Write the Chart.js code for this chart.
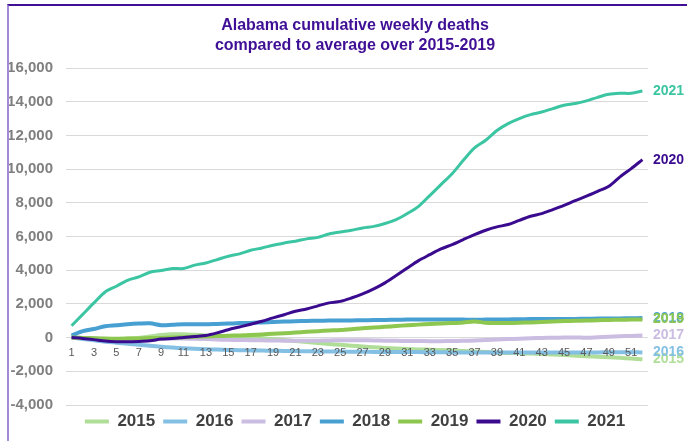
<!DOCTYPE html>
<html>
<head>
<meta charset="utf-8">
<script src="https://cdn.jsdelivr.net/npm/chart.js@4.4.1/dist/chart.umd.min.js"></script>
<style>
  html, body { margin: 0; padding: 0; background: #fff; overflow: hidden; }
  .frame {
    position: absolute; left: 7px; top: 4px;
    border-top: 2px solid #3f0f95; border-left: 2px solid #a58bd6;
  }
  .chart-box { position: relative; width: 692px; height: 437px; }
</style>
</head>
<body>
<div class="frame"><div class="chart-box"><canvas id="chart"></canvas></div></div>
<script>
const weeks = Array.from({ length: 52 }, (_, i) => String(i + 1));

const years = ["2015", "2016", "2017", "2018", "2019", "2020", "2021"];
const colors = ["#b0de98", "#84c0e3", "#cbbce2", "#479fd2", "#8dc74f", "#3a0b8e", "#3cc5a2"];
const widths = [4, 4, 4, 4, 4, 3, 3];

const d2015 = [0, -30, -60, -80, -80, -60, -20, 60, 150, 200, 200, 170, 130, 90, 50, 20, 0, -40, -90, -140,
  -200, -260, -320, -380, -430, -480, -530, -570, -610, -650, -680, -700, -720, -740, -770, -800, -830, -860,
  -890, -910, -930, -950, -980, -1010, -1040, -1070, -1100, -1130, -1160, -1200, -1240, -1290];
const d2016 = [0, -80, -160, -240, -300, -360, -420, -480, -540, -590, -630, -660, -690, -710, -730, -750, -760,
  -770, -780, -790, -800, -810, -820, -830, -830, -840, -840, -850, -850, -860, -860, -860, -870, -870, -880,
  -880, -880, -880, -880, -890, -890, -890, -890, -890, -880, -880, -880, -880, -870, -870, -870, -880];
const d2017 = [0, -20, -50, -80, -100, -110, -110, -100, -80, -60, -60, -70, -90, -110, -130, -140, -150, -160,
  -170, -180, -180, -180, -180, -170, -160, -160, -160, -170, -180, -190, -200, -200, -210, -210, -200, -190,
  -170, -140, -110, -90, -70, -40, -20, -10, 0, 10, -10, 20, 50, 80, 100, 120];
const d2018 = [120, 380, 510, 670, 730, 790, 830, 850, 740, 760, 790, 790, 790, 810, 830, 860, 870, 900, 930,
  950, 970, 990, 1000, 1010, 1010, 1020, 1030, 1040, 1050, 1060, 1070, 1080, 1080, 1080, 1080, 1070, 1060,
  1070, 1080, 1080, 1090, 1100, 1100, 1110, 1110, 1110, 1120, 1130, 1130, 1140, 1150, 1160];
const d2019 = [0, -20, -40, -60, -70, -60, -50, -30, -20, 0, 20, 50, 70, 90, 110, 130, 160, 190, 230, 260, 300,
  340, 380, 420, 450, 500, 560, 600, 640, 690, 730, 770, 800, 830, 860, 900, 960, 880, 870, 870, 880, 900, 930,
  950, 980, 1000, 1010, 1030, 1050, 1060, 1070, 1080];
const d2020 = [0, -50, -120, -200, -240, -240, -230, -190, -90, -50, 10, 70, 130, 280, 470, 630, 790, 970, 1170,
  1360, 1560, 1700, 1880, 2060, 2150, 2350, 2590, 2890, 3250, 3680, 4130, 4570, 4920, 5260, 5520, 5820, 6110,
  6370, 6570, 6710, 6960, 7200, 7360, 7600, 7850, 8130, 8390, 8680, 8980, 9540, 10030, 10560];
const d2021 = [700, 1380, 2060, 2710, 3050, 3400, 3600, 3880, 3980, 4100, 4100, 4300, 4430, 4630, 4830, 4970,
  5180, 5320, 5480, 5620, 5720, 5860, 5950, 6150, 6270, 6370, 6510, 6600, 6770, 7000, 7360, 7790, 8430, 9080,
  9730, 10520, 11260, 11710, 12290, 12700, 13000, 13230, 13390, 13590, 13790, 13890, 14050, 14260, 14440,
  14500, 14500, 14640];

const series = [d2015, d2016, d2017, d2018, d2019, d2020, d2021];

const titleLines = ["Alabama cumulative weekly deaths", "compared to average over 2015-2019"];

Chart.defaults.font.family = '"Liberation Sans", Arial, sans-serif';

// year name at the end of each line
const endLabels = {
  id: "endLabels",
  afterDatasetsDraw(chart) {
    const ctx = chart.ctx;
    ctx.save();
    ctx.font = 'bold 14px "Liberation Sans", Arial, sans-serif';
    ctx.textBaseline = "middle";
    chart.data.datasets.forEach((ds, i) => {
      const meta = chart.getDatasetMeta(i);
      const last = meta.data[meta.data.length - 1];
      ctx.fillStyle = ds.borderColor;
      ctx.fillText(ds.label, chart.chartArea.right + 5, last.y);
    });
    ctx.restore();
  },
};

new Chart(document.getElementById("chart"), {
  type: "line",
  data: {
    labels: weeks,
    datasets: years.map((y, i) => ({
      label: y,
      data: series[i],
      borderColor: colors[i],
      backgroundColor: colors[i],
      borderWidth: widths[i],
      pointRadius: 0,
      tension: 0.3,
      order: years.length - 1 - i,
    })),
  },
  options: {
    responsive: true,
    maintainAspectRatio: false,
    animation: false,
    layout: { padding: { left: 0, right: 0, top: 0, bottom: 3 } },
    plugins: {
      tooltip: { enabled: false },
      title: {
        display: true,
        text: titleLines,
        color: "#3f0f95",
        font: { size: 16, weight: "bold", lineHeight: 1.25 },
        padding: { top: 10, bottom: 12 },
      },
      legend: {
        position: "bottom",
        labels: {
          boxWidth: 24,
          boxHeight: 4,
          padding: 8,
          color: "#404040",
          font: { size: 17, weight: "bold" },
          generateLabels: (chart) =>
            chart.data.datasets.map((ds, i) => ({
              text: ds.label,
              fillStyle: ds.borderColor,
              strokeStyle: ds.borderColor,
              lineWidth: 0,
              datasetIndex: i,
              fontColor: "#404040",
            })),
        },
      },
    },
    scales: {
      x: {
        position: { y: 0 },
        offset: true,
        grid: { display: false },
        border: { display: false },
        ticks: {
          z: 1, // week numbers sit on top of the lines
          autoSkip: false,
          maxRotation: 0,
          padding: 1,
          color: "#595959",
          font: { size: 11 },
          callback: (v, i) => (i % 2 === 0 ? weeks[i] : ""),
        },
      },
      y: {
        min: -4000,
        max: 16000,
        afterFit: (scale) => { scale.width = 57; },
        grid: { color: "#d9d9d9", drawTicks: false },
        border: { display: false },
        ticks: {
          stepSize: 2000,
          padding: 13,
          color: "#7f7f7f",
          font: { size: 15, weight: "bold" },
          callback: (v) => v.toLocaleString("en-US"),
        },
      },
      // empty right-hand axis: leaves room for the end labels
      yRight: {
        position: "right",
        min: -4000,
        max: 16000,
        afterFit: (scale) => { scale.width = 53; },
        grid: { display: false },
        border: { display: false },
        ticks: { display: false },
      },
    },
  },
  plugins: [endLabels],
});
</script>
</body>
</html>
